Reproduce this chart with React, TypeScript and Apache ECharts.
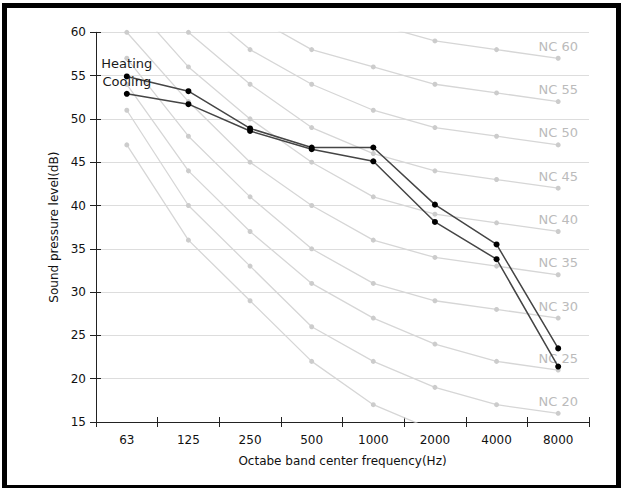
import React, { useEffect, useRef } from "react";
import * as echarts from "echarts";

const categories = ["63", "125", "250", "500", "1000", "2000", "4000", "8000"];

const ncNames = ["NC 15", "NC 20", "NC 25", "NC 30", "NC 35", "NC 40", "NC 45", "NC 50", "NC 55", "NC 60"];
const nc15 = [47, 36, 29, 22, 17, 14, 12, 11];
const nc20 = [51, 40, 33, 26, 22, 19, 17, 16];
const nc25 = [54, 44, 37, 31, 27, 24, 22, 21];
const nc30 = [57, 48, 41, 35, 31, 29, 28, 27];
const nc35 = [60, 52, 45, 40, 36, 34, 33, 32];
const nc40 = [64, 56, 50, 45, 41, 39, 38, 37];
const nc45 = [67, 60, 54, 49, 46, 44, 43, 42];
const nc50 = [71, 64, 58, 54, 51, 49, 48, 47];
const nc55 = [74, 67, 62, 58, 56, 54, 53, 52];
const nc60 = [77, 71, 67, 63, 61, 59, 58, 57];
const ncCurves = [nc15, nc20, nc25, nc30, nc35, nc40, nc45, nc50, nc55, nc60];

const heating = [54.9, 53.2, 48.9, 46.7, 46.7, 40.1, 35.5, 23.5];
const cooling = [52.9, 51.7, 48.6, 46.5, 45.1, 38.1, 33.8, 21.4];

const yTicks = { min: 15, max: 60, interval: 5 };

const FONT = "DejaVu Sans";

export default function App() {
  const ref = useRef<HTMLDivElement>(null);

  useEffect(() => {
    if (!ref.current) return;
    const chart = echarts.init(ref.current, undefined, { renderer: "svg" });

    const ncSeries = ncCurves.map((vals, i) => ({
      type: "line",
      name: ncNames[i],
      data: vals.map((v, j) =>
        j === vals.length - 1 && v >= yTicks.min
          ? {
              value: v,
              label: {
                show: true,
                position: "top",
                distance: 3,
                formatter: ncNames[i],
                color: "#bbbbbb",
                fontSize: 13,
                fontFamily: FONT,
              },
            }
          : v
      ),
      symbol: "circle",
      symbolSize: 5,
      lineStyle: { color: "#d6d6d6", width: 1.3 },
      itemStyle: { color: "#cccccc" },
      emphasis: { disabled: true },
      silent: true,
      z: 2,
    }));

    const mainSeries = [
      { name: "Heating", vals: heating },
      { name: "Cooling", vals: cooling },
    ].map((s) => ({
      type: "line",
      name: s.name,
      data: s.vals.map((v, j) =>
        j === 0
          ? {
              value: v,
              label: {
                show: true,
                position: "top",
                distance: 3,
                formatter: s.name,
                color: "#1a1a1a",
                fontSize: 13,
                fontFamily: FONT,
              },
            }
          : v
      ),
      symbol: "circle",
      symbolSize: 6,
      lineStyle: { color: "#454545", width: 1.5 },
      itemStyle: { color: "#000000" },
      emphasis: { disabled: true },
      silent: true,
      z: 5,
    }));

    chart.setOption({
      animation: false,
      grid: { left: 96, top: 32.3, right: 35, bottom: 66, containLabel: false },
      xAxis: [
        {
          type: "category",
          data: categories,
          position: "bottom",
          boundaryGap: true,
          name: "Octabe band center frequency(Hz)",
          nameLocation: "middle",
          nameGap: 33,
          nameTextStyle: { fontFamily: FONT, fontSize: 12, color: "#111" },
          axisLine: { show: true, lineStyle: { color: "#222", width: 1 } },
          axisTick: { show: true, length: 5, lineStyle: { color: "#222" } },
          axisLabel: { fontFamily: FONT, fontSize: 12, color: "#111", margin: 12 },
          splitLine: { show: false },
        },
        {
          type: "category",
          data: categories,
          position: "bottom",
          boundaryGap: true,
          axisLine: { show: false },
          axisTick: { show: true, inside: true, length: 5, lineStyle: { color: "#222" } },
          axisLabel: { show: false },
          splitLine: { show: false },
        },
      ],
      yAxis: [
        {
          type: "value",
          min: yTicks.min,
          max: yTicks.max,
          interval: yTicks.interval,
          position: "left",
          name: "Sound pressure level(dB)",
          nameLocation: "middle",
          nameGap: 36,
          nameTextStyle: { fontFamily: FONT, fontSize: 12, color: "#111" },
          axisLine: { show: true, lineStyle: { color: "#222", width: 1 } },
          axisTick: { show: true, length: 6, lineStyle: { color: "#222" } },
          axisLabel: { fontFamily: FONT, fontSize: 12, color: "#111", margin: 10 },
          splitLine: { show: true, lineStyle: { color: "#dddddd", width: 1 } },
        },
        {
          type: "value",
          min: yTicks.min,
          max: yTicks.max,
          interval: yTicks.interval,
          position: "left",
          axisLine: { show: false },
          axisTick: { show: true, inside: true, length: 5, lineStyle: { color: "#222" } },
          axisLabel: { show: false },
          splitLine: { show: false },
        },
      ],
      series: [...ncSeries, ...mainSeries],
    });

    return () => chart.dispose();
  }, []);

  return (
    <div style={{ position: "absolute", left: 0, top: 0, width: 624, height: 488, background: "#fff", overflow: "hidden" }}>
      <div ref={ref} style={{ position: "absolute", left: 0, top: 0, width: 624, height: 488 }} />
      <div
        style={{
          position: "absolute",
          left: 2,
          top: 3,
          width: 619,
          height: 487,
          border: "5px solid #000",
          boxSizing: "border-box",
          pointerEvents: "none",
        }}
      />
    </div>
  );
}
